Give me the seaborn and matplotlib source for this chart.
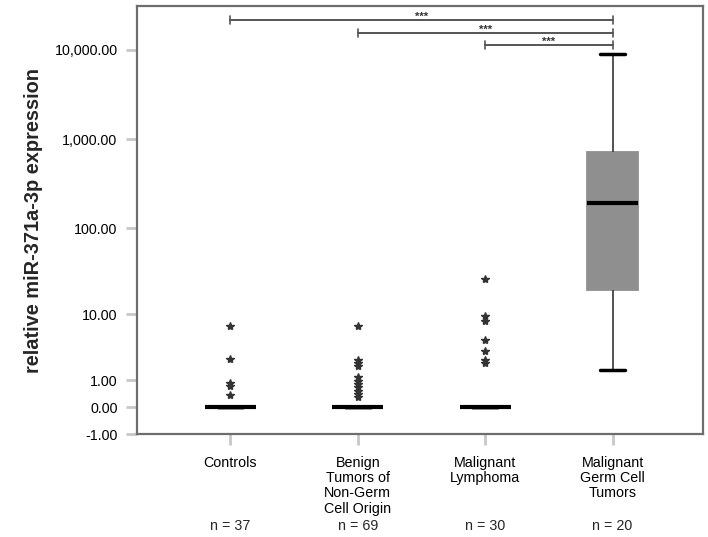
import numpy as np
import pandas as pd
import seaborn as sns
import matplotlib
matplotlib.use("Agg")
import matplotlib.pyplot as plt
from matplotlib.ticker import FixedLocator, FuncFormatter

# groups and their sample sizes
groups = ["Controls", "Benign\nTumors of\nNon-Germ\nCell Origin",
          "Malignant\nLymphoma", "Malignant\nGerm Cell\nTumors"]
n_labels = ["n = 37", "n = 69", "n = 30", "n = 20"]

# relative miR-371a-3p expression values
controls = [7.2, 2.5, 0.85, 0.72, 0.36] + [0.0] * 32
benign = [7.1, 2.35, 2.1, 1.87, 1.16, 0.95, 0.81, 0.67, 0.51, 0.40, 0.29] + [0.0] * 58
lymphoma = [25.9, 9.4, 8.3, 4.6, 3.2, 2.4, 2.1] + [0.0] * 23
gct = [1.6, 4.5, 8.0, 12.0, 19.0, 19.5, 40.0, 85.0, 140.0, 185.0,
       203.0, 280.0, 390.0, 520.0, 700.0, 735.0, 1300.0, 2400.0, 4800.0, 9000.0]

yticks = [-1, 0, 1, 10, 100, 1000, 10000]
# significance brackets (from group index, to group index)
pairs = [(0, 3), (1, 3), (2, 3)]

df = pd.DataFrame({
    "group": [groups[0]] * len(controls) + [groups[1]] * len(benign)
             + [groups[2]] * len(lymphoma) + [groups[3]] * len(gct),
    "value": controls + benign + lymphoma + gct,
})

sns.set_style("white")
plt.rcParams["font.family"] = ["Liberation Sans", "DejaVu Sans"]

fig = plt.figure(figsize=(7.08, 5.37), dpi=100)
ax = fig.add_axes([0.1935, 0.1918, 0.7995, 0.7961])

box_kw = dict(x="group", y="value", order=groups, width=0.4, color="#8f8f8f",
              linecolor="#444444", linewidth=1.3,
              boxprops=dict(edgecolor="#8f8f8f"),
              medianprops=dict(color="black", linewidth=3),
              whiskerprops=dict(color="#444444", linewidth=1.3),
              capprops=dict(color="black", linewidth=2.5),
              flierprops=dict(marker="*", markersize=6, markerfacecolor="#333333",
                              markeredgecolor="#333333", linestyle="none"),
              ax=ax)
sns.boxplot(data=df[df["group"] != groups[3]], **box_kw)
sns.boxplot(data=df[df["group"] == groups[3]], whis=(0, 100), **box_kw)

# "safe log" axis: sign(y) * log10(1 + |y|)
fwd = lambda v: np.sign(v) * np.log10(1 + np.abs(v))
inv = lambda v: np.sign(v) * (10 ** np.abs(v) - 1)
ax.set_yscale("function", functions=(fwd, inv))
ax.set_ylim(-1, 30600)
ax.yaxis.set_major_locator(FixedLocator(yticks))
ax.yaxis.set_minor_locator(FixedLocator([]))
ax.yaxis.set_major_formatter(FuncFormatter(lambda v, p: f"{v:,.2f}"))
ax.set_xlim(-0.734, 3.71)

ax.set_xticks(range(len(groups)))
ax.set_xticklabels(groups, linespacing=1.1)
ax.set_xlabel("")
ax.set_ylabel("relative miR-371a-3p expression", fontsize=14.4,
              fontweight="bold", labelpad=8)
ax.tick_params(axis="both", labelsize=10.3, length=8, width=2,
               color="#c8c8c8", labelcolor="black", pad=6, left=True, bottom=True)
ax.tick_params(axis="x", pad=8)
for s in ax.spines.values():
    s.set_color("#6e6e6e")
    s.set_linewidth(1.6)

tr = ax.get_xaxis_transform()
# sample sizes under the group labels
for i, n in enumerate(n_labels):
    ax.text(i, -0.215, n, ha="center", va="center", fontsize=10.3, transform=tr)

# significance brackets
for (a, b), yb in zip(pairs, [0.968, 0.938, 0.910]):
    ax.plot([a, b], [yb, yb], color="#555555", lw=1.4, transform=tr, clip_on=False)
    for xe in (a, b):
        ax.plot([xe, xe], [yb - 0.009, yb + 0.009], color="#555555", lw=1.2,
                transform=tr, clip_on=False)
    ax.text((a + b) / 2, yb - 0.004, "***", ha="center", va="bottom",
            fontsize=8, fontweight="bold", color="#333333", transform=tr)

fig.savefig("out.png", dpi=100)
